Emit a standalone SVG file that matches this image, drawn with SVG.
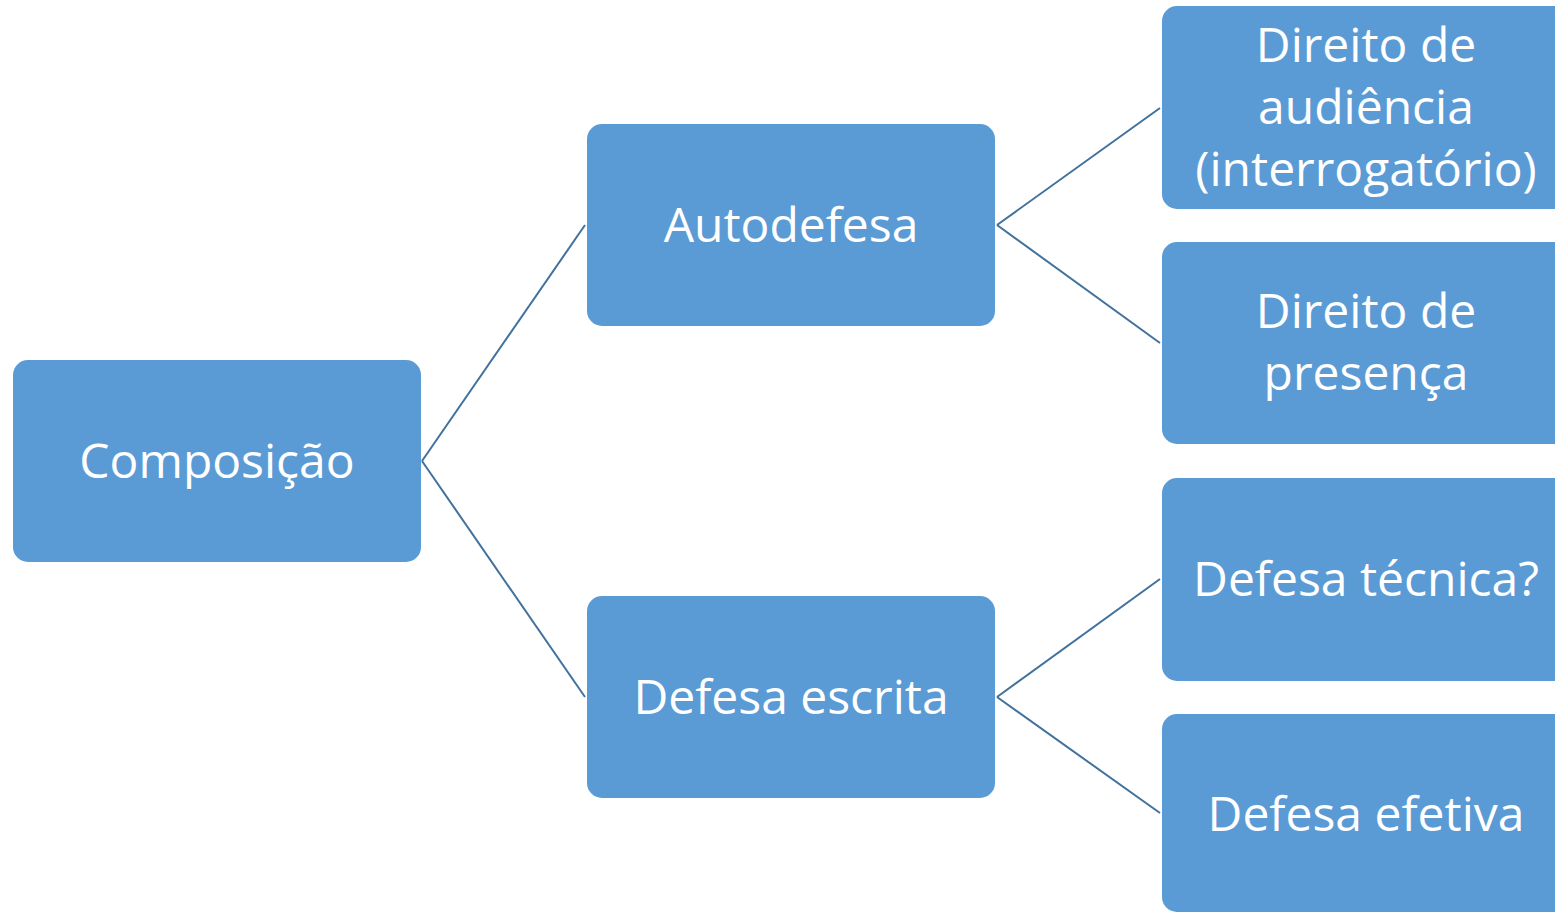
<svg xmlns="http://www.w3.org/2000/svg" width="1555" height="913" viewBox="0 0 1555 913">
<style>
.box{fill:#5B9BD5;}
.lbl{fill:#FFFFFF;font-family:"Open Sans","Liberation Sans",sans-serif;font-size:48px;text-anchor:middle;}
.con{stroke:#41719C;stroke-width:2;fill:none;}
</style>
<rect width="1555" height="913" fill="#FFFFFF"/>
<g id="connectors">
<line class="con" x1="422" y1="461" x2="585" y2="225"/>
<line class="con" x1="422" y1="461" x2="585" y2="697"/>
<line class="con" x1="997" y1="225" x2="1160" y2="108"/>
<line class="con" x1="997" y1="225" x2="1160" y2="343"/>
<line class="con" x1="997" y1="697" x2="1160" y2="579"/>
<line class="con" x1="997" y1="697" x2="1160" y2="813"/>
</g>
<g id="composicao">
<rect class="box" x="13" y="360" width="408" height="202" rx="15"/>
<text class="lbl" x="217" y="478">Composição</text>
</g>
<g id="autodefesa">
<rect class="box" x="587" y="124" width="408" height="202" rx="15"/>
<text class="lbl" x="791" y="242">Autodefesa</text>
</g>
<g id="defesa-escrita">
<rect class="box" x="587" y="596" width="408" height="202" rx="15"/>
<text class="lbl" x="791" y="714">Defesa escrita</text>
</g>
<g id="direito-audiencia">
<rect class="box" x="1162" y="6" width="408" height="203" rx="15"/>
<text class="lbl" x="1366" y="62">Direito de</text>
<text class="lbl" x="1366" y="124">audiência</text>
<text class="lbl" x="1366" y="186">(interrogatório)</text>
</g>
<g id="direito-presenca">
<rect class="box" x="1162" y="242" width="408" height="202" rx="15"/>
<text class="lbl" x="1366" y="328">Direito de</text>
<text class="lbl" x="1366" y="390">presença</text>
</g>
<g id="defesa-tecnica">
<rect class="box" x="1162" y="478" width="408" height="203" rx="15"/>
<text class="lbl" x="1366" y="596">Defesa técnica?</text>
</g>
<g id="defesa-efetiva">
<rect class="box" x="1162" y="714" width="408" height="198" rx="15"/>
<text class="lbl" x="1366" y="831">Defesa efetiva</text>
</g>
</svg>
